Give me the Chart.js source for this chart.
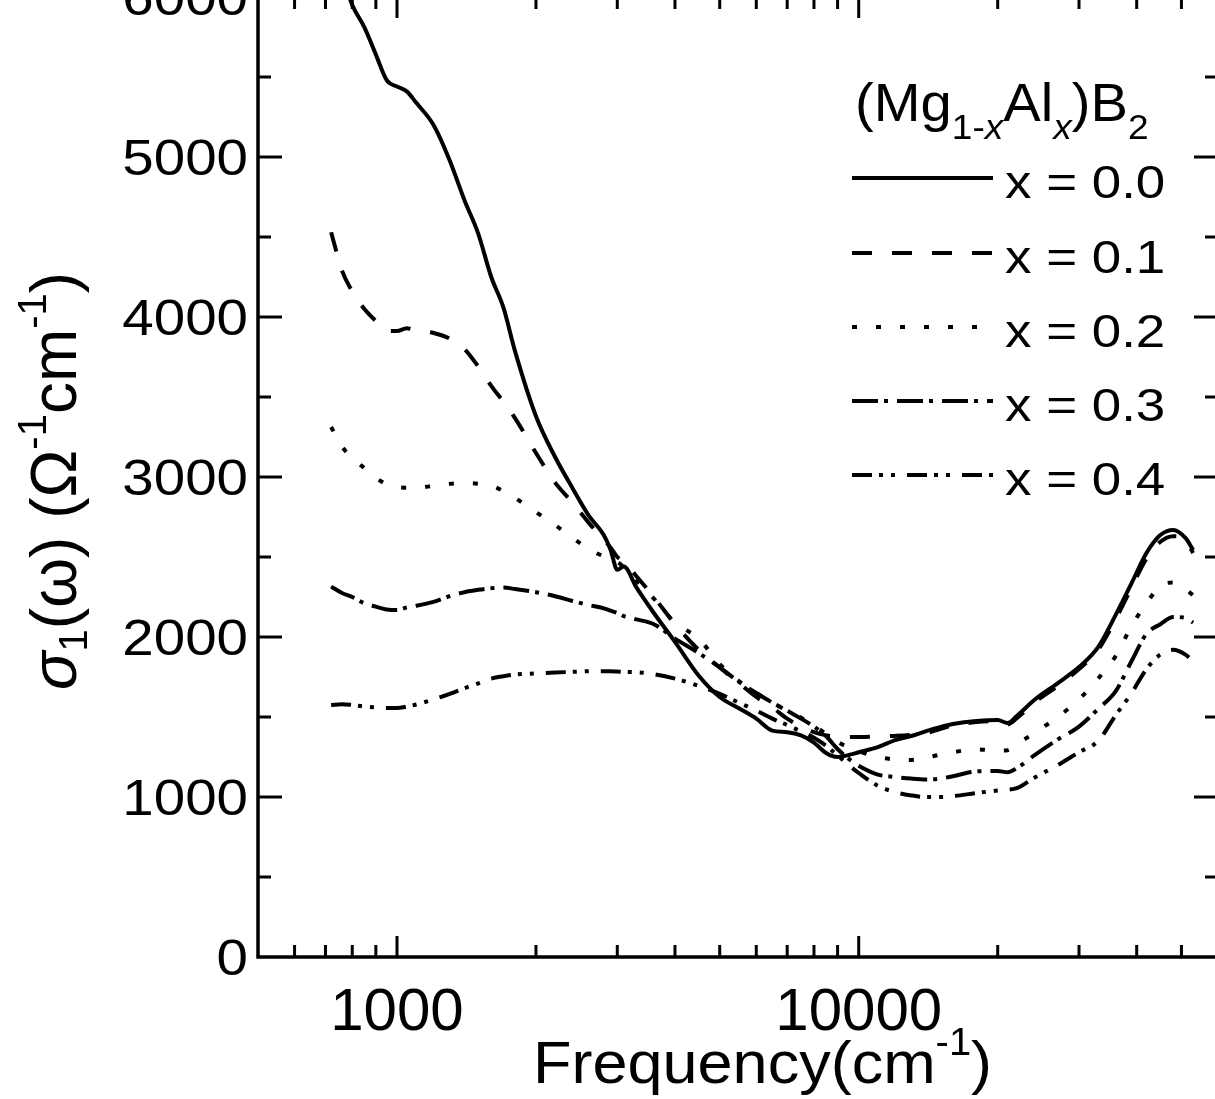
<!DOCTYPE html>
<html>
<head>
<meta charset="utf-8">
<script src="https://cdn.jsdelivr.net/npm/chart.js@4.4.1/dist/chart.umd.min.js"></script>
<style>
  html, body { margin: 0; padding: 0; background: #fff; overflow: hidden; }
  #wrap { position: absolute; left: 0; top: -40px; width: 1240px; height: 1140px; }
</style>
</head>
<body>
<div id="wrap"><canvas id="chart" width="1240" height="1140"></canvas></div>
<script>
// frequency grid (cm^-1), shared by all samples
const freq = [720, 760, 800, 850, 900, 950, 1000, 1050, 1100, 1200, 1300, 1400, 1500, 1600, 1700, 1800,
  2000, 2200, 2400, 2600, 2800, 2900, 3000, 3100, 3300, 3600, 4000, 4500, 5000, 5500, 6000, 6500,
  7000, 7500, 8000, 8500, 9000, 9500, 10000, 11000, 12000, 13000, 14000, 15000, 16000, 18000,
  20000, 21000, 22000, 24000, 27000, 30000, 33000, 36000, 39000, 42000, 45000, 48000, 51000, 53000];

// sigma_1 (Ohm^-1 cm^-1) for each Al content
const sigmaX00 = [6330, 6140, 5950, 5810, 5640, 5480, 5440, 5410, 5340, 5200, 4980, 4730, 4520, 4250, 4060, 3790,
  3380, 3125, 2930, 2760, 2640, 2545, 2420, 2440, 2310, 2150, 1970, 1760, 1625, 1555, 1490, 1415,
  1405, 1385, 1340, 1275, 1250, 1262, 1280, 1312, 1356, 1381, 1412, 1437, 1456, 1475,
  1481, 1462, 1506, 1606, 1712, 1812, 1937, 2137, 2337, 2525, 2637, 2669, 2619, 2544];
const sigmaX01 = [4530, 4290, 4160, 4050, 3975, 3915, 3912, 3930, 3915, 3900, 3865, 3800, 3690, 3570, 3470, 3370,
  3150, 2965, 2840, 2715, 2610, 2560, 2500, 2470, 2380, 2250, 2080, 1920, 1810, 1712, 1625, 1560,
  1490, 1440, 1405, 1385, 1375, 1375, 1375, 1378, 1382, 1388, 1398, 1425, 1448, 1468,
  1475, 1455, 1492, 1590, 1695, 1800, 1920, 2110, 2310, 2490, 2595, 2630, 2605, 2525];
const sigmaX02 = [3312, 3190, 3120, 3055, 2995, 2955, 2937, 2933, 2932, 2945, 2957, 2962, 2958, 2945, 2912, 2870,
  2780, 2700, 2620, 2550, 2505, 2490, 2470, 2435, 2350, 2240, 2090, 1990, 1830, 1725, 1650, 1590,
  1540, 1495, 1445, 1395, 1345, 1310, 1285, 1250, 1235, 1232, 1245, 1265, 1280, 1298,
  1290, 1292, 1330, 1400, 1500, 1610, 1740, 1880, 2070, 2210, 2320, 2340, 2300, 2260];
const sigmaX03 = [2315, 2275, 2250, 2210, 2190, 2172, 2168, 2185, 2195, 2220, 2255, 2280, 2295, 2305, 2310, 2300,
  2280, 2255, 2225, 2200, 2180, 2165, 2150, 2130, 2110, 2080, 1990, 1900, 1810, 1720, 1650, 1590,
  1540, 1490, 1440, 1380, 1300, 1240, 1195, 1140, 1125, 1115, 1110, 1115, 1130, 1160,
  1162, 1155, 1180, 1260, 1360, 1440, 1550, 1660, 1850, 2020, 2080, 2125, 2120, 2090];
const sigmaX04 = [1575, 1580, 1575, 1565, 1560, 1556, 1556, 1565, 1578, 1610, 1645, 1680, 1710, 1740, 1755, 1765,
  1772, 1778, 1782, 1786, 1786, 1786, 1784, 1782, 1780, 1768, 1740, 1695, 1645, 1590, 1540, 1490,
  1450, 1410, 1370, 1320, 1260, 1200, 1150, 1070, 1030, 1010, 1000, 1000, 1005, 1025,
  1040, 1045, 1055, 1120, 1200, 1280, 1350, 1510, 1650, 1800, 1890, 1920, 1890, 1850];

const seriesLabels = ['x = 0.0', 'x = 0.1', 'x = 0.2', 'x = 0.3', 'x = 0.4'];
const xTickValues = [1000, 10000];
const xTickLabels = ['1000', '10000'];
const yTickValues = [0, 1000, 2000, 3000, 4000, 5000, 6000];
const yTickLabels = ['0', '1000', '2000', '3000', '4000', '5000', '6000'];

const dashes = [[], [20, 20], [5, 19], [26, 6, 4, 9], [20, 7, 4, 8, 4, 12]];
const FONT = '"Liberation Sans", Arial, sans-serif';

function toPoints(values) {
    return freq.map((f, i) => ({ x: f, y: values[i] }));
}

// draw a run of text pieces (sub/superscripts), returns end x
function drawRich(ctx, parts, x, y, sx) {
    let cx = x;
    parts.forEach(p => {
        ctx.font = (p.italic ? 'italic ' : '') + p.size + 'px ' + FONT;
        ctx.save();
        ctx.translate(cx, y + (p.dy || 0));
        ctx.scale(sx, 1);
        ctx.fillText(p.t, 0, 0);
        ctx.restore();
        cx += ctx.measureText(p.t).width * sx;
    });
    return cx;
}

function drawScaled(ctx, text, x, y, size, sx, align) {
    ctx.save();
    ctx.font = size + 'px ' + FONT;
    ctx.textAlign = align;
    ctx.translate(x, y);
    ctx.scale(sx, 1);
    ctx.fillText(text, 0, 0);
    ctx.restore();
}

const framePlugin = {
    id: 'framePlugin',
    afterDraw(chart) {
        const ctx = chart.ctx;
        const ca = chart.chartArea;
        const xs = chart.scales.x, ys = chart.scales.y;
        const OY = ca.top + 3; // page y = 0
        ctx.save();
        ctx.strokeStyle = '#000';
        ctx.fillStyle = '#000';
        ctx.lineWidth = 3.5;
        ctx.setLineDash([]);
        ctx.strokeRect(ca.left, ca.top, ca.right - ca.left, ca.bottom - ca.top);

        // y ticks, inward on both sides
        ctx.lineWidth = 3;
        for (let v = 500; v < 6000; v += 500) {
            const py = ys.getPixelForValue(v);
            const len = v % 1000 === 0 ? 24 : 13;
            ctx.beginPath();
            ctx.moveTo(ca.left, py); ctx.lineTo(ca.left + len, py);
            ctx.moveTo(ca.right, py); ctx.lineTo(ca.right - len, py);
            ctx.stroke();
        }
        // x ticks, log decades
        [100, 1000, 10000].forEach(d => {
            for (let k = 1; k <= 9; k++) {
                const v = k * d;
                if (v <= 500 || v >= 60000) continue;
                const px = xs.getPixelForValue(v);
                const len = k === 1 ? 21 : 12;
                ctx.beginPath();
                ctx.moveTo(px, ca.bottom); ctx.lineTo(px, ca.bottom - len);
                ctx.moveTo(px, ca.top); ctx.lineTo(px, ca.top + len);
                ctx.stroke();
            }
        });

        // tick labels
        ctx.textBaseline = 'alphabetic';
        yTickValues.forEach((v, i) => {
            drawScaled(ctx, yTickLabels[i], ca.left - 10, ys.getPixelForValue(v) + 18, 50, 1.13, 'right');
        });
        xTickValues.forEach((v, i) => {
            drawScaled(ctx, xTickLabels[i], xs.getPixelForValue(v), OY + 1030, 60, 1.0, 'center');
        });

        // x title
        ctx.textAlign = 'left';
        drawRich(ctx, [
            { t: 'Frequency(cm', size: 60 },
            { t: '-1', size: 38, dy: -28 },
            { t: ')', size: 60 }
        ], 533, OY + 1083, 1.05);

        // y title (rotated)
        ctx.save();
        ctx.translate(76, OY + 690);
        ctx.rotate(-Math.PI / 2);
        drawRich(ctx, [
            { t: 'σ', size: 64, italic: true },
            { t: '1', size: 40, dy: 11 },
            { t: '(ω) (Ω', size: 64 },
            { t: '-1', size: 40, dy: -30 },
            { t: 'cm', size: 64 },
            { t: '-1', size: 40, dy: -30 },
            { t: ')', size: 64 }
        ], 0, 0, 1.0);
        ctx.restore();

        // legend title
        drawRich(ctx, [
            { t: '(Mg', size: 53 },
            { t: '1-', size: 35, dy: 18 },
            { t: 'x', size: 35, dy: 18, italic: true },
            { t: 'Al', size: 53 },
            { t: 'x', size: 35, dy: 18, italic: true },
            { t: ')B', size: 53 },
            { t: '2', size: 35, dy: 18 }
        ], 855, OY + 121, 1.06);

        // legend rows
        const rowY = [178, 253, 327, 401, 475];
        chart.data.datasets.forEach((ds, i) => {
            const y = OY + rowY[i];
            ctx.lineWidth = 4;
            ctx.setLineDash(dashes[i]);
            ctx.beginPath();
            ctx.moveTo(852, y); ctx.lineTo(993, y);
            ctx.stroke();
            ctx.setLineDash([]);
            drawScaled(ctx, ds.label, 1005, y + 20, 46, 1.15, 'left');
        });
        ctx.restore();
    }
};

const allSeries = [sigmaX00, sigmaX01, sigmaX02, sigmaX03, sigmaX04];

const ctx = document.getElementById('chart').getContext('2d');
const chart = new Chart(ctx, {
    type: 'line',
    data: {
        datasets: allSeries.map((vals, i) => ({
            label: seriesLabels[i],
            data: toPoints(vals),
            borderColor: '#000',
            borderWidth: 4,
            borderDash: dashes[i],
            pointRadius: 0,
            fill: false,
            cubicInterpolationMode: 'monotone'
        }))
    },
    options: {
        responsive: false,
        animation: false,
        layout: { padding: { top: 37, right: 22, left: 0, bottom: 0 } },
        plugins: { legend: { display: false }, tooltip: { enabled: false } },
        scales: {
            x: {
                type: 'logarithmic',
                min: 500,
                max: 60000,
                grid: { display: false },
                border: { display: false },
                ticks: { display: false },
                afterFit: s => { s.height = 143; }
            },
            y: {
                min: 0,
                max: 6000,
                grid: { display: false },
                border: { display: false },
                ticks: { display: false },
                afterFit: s => { s.width = 258; }
            }
        }
    },
    plugins: [framePlugin]
});
</script>
</body>
</html>
